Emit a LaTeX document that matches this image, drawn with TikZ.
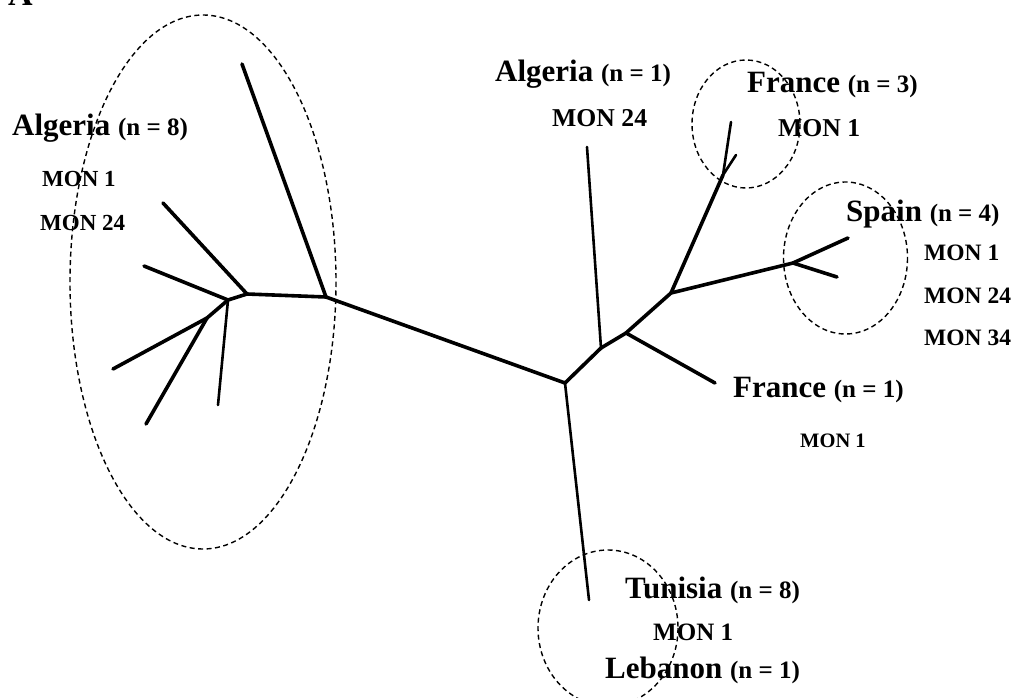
\documentclass[tikz,border=0pt]{standalone}
\usepackage{fontspec}
\setmainfont{Liberation Serif}
\newcommand\bigtxt[1]{{\fontsize{31}{31}\selectfont #1}}
\newcommand\paren[1]{{\fontsize{25}{25}\selectfont (n = #1)}}
\newcommand\montxt[2]{{\fontsize{#1}{#1}\selectfont #2}}
\begin{document}
\begin{tikzpicture}[x=1pt,y=-1pt,
  branch/.style={line width=3.6pt, line cap=round, line join=round},
  thinbranch/.style={line width=2.6pt, line cap=round, line join=round},
  group/.style={draw, line width=1.4pt, dash pattern=on 5pt off 3.5pt},
  lab/.style={anchor=base west, inner sep=0pt, font=\bfseries}]
\useasboundingbox (0,0) rectangle (1013,698);

% panel letter
\node[lab] (panel) at (8,6) {\fontsize{34}{34}\selectfont A};

% tree junctions and tips
\coordinate (C) at (565,383);
\coordinate (L1) at (326,297);
\coordinate (tL1) at (242,64);
\coordinate (L2) at (247,294);
\coordinate (tL2) at (163,203);
\coordinate (L3) at (228,300);
\coordinate (tL3a) at (144,266);
\coordinate (tL3b) at (218,405);
\coordinate (L4) at (207,318);
\coordinate (tL4a) at (113,369);
\coordinate (tL4b) at (146,424);
\coordinate (B) at (589,600);
\coordinate (R1) at (601,348);
\coordinate (tR1) at (587,147);
\coordinate (R2) at (626,333);
\coordinate (tR2) at (715,383);
\coordinate (R3) at (671,293);
\coordinate (R4) at (723,175);
\coordinate (tR4a) at (731,122);
\coordinate (tR4b) at (736,155);
\coordinate (R5) at (793,263);
\coordinate (tR5a) at (848,238);
\coordinate (tR5b) at (837,277);

% edges
\draw[branch] (C) -- (L1);
\draw[branch] (L1) -- (tL1);
\draw[branch] (L1) -- (L2);
\draw[branch] (L2) -- (tL2);
\draw[branch] (L2) -- (L3);
\draw[branch] (L3) -- (tL3a);
\draw[thinbranch] (L3) -- (tL3b);
\draw[branch] (L3) -- (L4);
\draw[branch] (L4) -- (tL4a);
\draw[branch] (L4) -- (tL4b);
\draw[thinbranch] (C) -- (B);
\draw[branch] (C) -- (R1);
\draw[thinbranch] (R1) -- (tR1);
\draw[branch] (R1) -- (R2);
\draw[branch] (R2) -- (tR2);
\draw[branch] (R2) -- (R3);
\draw[branch] (R3) -- (R4);
\draw[thinbranch] (R4) -- (tR4a);
\draw[thinbranch] (R4) -- (tR4b);
\draw[branch] (R3) -- (R5);
\draw[branch] (R5) -- (tR5a);
\draw[branch] (R5) -- (tR5b);

% dashed groups
\draw[group] (203,282) ellipse [x radius=133, y radius=267];
\draw[group] (746,124) ellipse [x radius=54, y radius=64];
\draw[group] (845.5,258) ellipse [x radius=62, y radius=76];
\draw[group] (608,628) ellipse [x radius=70, y radius=78];

% labels
\node[lab] (alg8) at (12,136) {\bigtxt{Algeria }\paren{8}};
\node[lab] (alg8a) at (42,187) {\montxt{23}{MON 1}};
\node[lab] (alg8b) at (40,230) {\montxt{23}{MON 24}};

\node[lab] (alg1) at (495,82) {\bigtxt{Algeria }\paren{1}};
\node[lab] (alg1a) at (552,127) {\montxt{25.7}{MON 24}};

\node[lab] (fr3) at (747,93) {\bigtxt{France }\paren{3}};
\node[lab] (fr3a) at (778,137) {\montxt{25.7}{MON 1}};

\node[lab] (sp) at (846,222) {\bigtxt{Spain }\paren{4}};
\node[lab] (spa) at (924,261) {\montxt{23.5}{MON 1}};
\node[lab] (spb) at (924,303) {\montxt{23.5}{MON 24}};
\node[lab] (spc) at (924,345) {\montxt{23.5}{MON 34}};

\node[lab] (fr1) at (733,397) {\bigtxt{France }\paren{1}};
\node[lab] (fr1a) at (800,447) {\montxt{20.5}{MON 1}};

\node[lab] (tun) at (625,598) {\bigtxt{Tunisia }\paren{8}};
\node[lab] (tuna) at (653,640) {\montxt{25}{MON 1}};
\node[lab] (leb) at (605,678) {\bigtxt{Lebanon }\paren{1}};
\end{tikzpicture}
\end{document}
